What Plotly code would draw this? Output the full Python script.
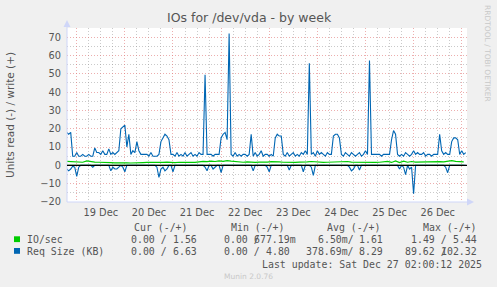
import plotly.graph_objects as go
import pandas as pd

# ---------------- data ----------------
# hourly samples starting 2025-12-18 19:00 (Req Size, KB)
req_write = [
    18, 17, 18, 5, 5, 7, 5, 5, 6, 5, 5, 6, 5, 5, 9.5, 7, 7, 6, 8, 6,
    6, 9, 6, 7, 6, 7, 8, 20, 21, 22, 10, 17, 6, 8, 7, 13, 8, 6, 6, 6,
    6, 5, 7, 5, 5, 5, 6, 13, 15, 17, 16, 14, 6, 6, 5, 7, 5, 6, 5, 7,
    5, 6, 7, 5, 6, 5, 7, 6, 6, 49.5, 6, 6, 6, 5, 6, 6, 6, 15, 17, 18,
    14, 72, 6, 5, 7, 5, 6, 5, 6, 6, 5, 6, 17, 5, 7, 5, 6, 8, 5, 6,
    6, 5, 6, 5, 15, 17, 16, 16, 6, 5, 7, 5, 6, 7, 5, 6, 5, 7, 6, 8,
    6, 55.8, 6, 7, 5, 8, 6, 7, 6, 5, 7, 6, 6, 16, 17, 17, 15, 6, 5, 7,
    6, 5, 7, 6, 5, 6, 7, 5, 6, 8, 6, 57.3, 6, 6, 6, 6, 6, 5, 6, 6,
    6, 6, 14, 19, 17, 6, 5, 6, 5, 7, 6, 5, 6, 8, 6, 7, 6, 6, 7, 5,
    6, 6, 5, 6, 6, 6, 17, 8, 6, 7, 6, 6, 13, 15, 15, 14, 6, 8, 6, 7,
]
req_read = [
    2, 3, 2, 0.5, 1, 6, 1, 0, 0, 0, 0, 0, 0, 1, 0, 0, 0, 0, 0, 0,
    0, 0, 3, 1, 2, 2, 1, 0, 1, 3.5, 0, 0, 0, 0, 0, 0, 0, 0, 0, 0,
    0, 0, 0, 0, 0, 1, 6.5, 2, 1, 3, 2, 0, 0, 3.5, 0, 0, 0, 0, 0, 0,
    0, 0, 0, 0, 0, 0, 0, 0, 0, 1, 3, 0, 0, 2, 1, 0, 0, 4, 0, 0,
    0, 0, 0, 0, 0, 0, 0, 0, 0, 0, 0, 0, 0, 3, 0, 0, 0, 0, 0, 0,
    1, 3.5, 0, 0, 0, 0, 0, 0, 0, 0, 0, 2.5, 0, 0, 0, 0, 0, 0, 3.5, 0,
    0, 0, 1, 5.5, 0, 0, 0, 0, 0, 0, 0, 0, 0, 0, 0, 0, 0, 0, 0, 0,
    0, 1, 3, 2, 0, 0, 2.5, 0, 0, 0, 0, 0, 0, 0, 0, 0, 0, 0, 0, 0,
    0, 0, 0, 0, 0, 0, 2, 0, 1, 5, 0, 2, 1, 15.5, 0, 0, 0, 0, 0, 0,
    0, 0, 0, 0, 0, 0, 0, 0, 0, 1, 4, 0, 0, 0, 0, 0, 0, 0, 0, 0,
]
# two-hourly samples starting 2025-12-18 19:00 (IO/sec)
io_write = [
    2.2, 2.1, 1.8, 1.9, 1.7, 2.4, 1.9, 1.8, 1.7, 1.5,
    1.6, 1.5, 1.4, 1.5, 1.3, 1.4, 1.3, 1.5, 1.4, 1.5,
    1.6, 1.5, 1.6, 1.7, 1.6, 1.8, 1.6, 1.5, 1.7, 1.6,
    1.8, 1.7, 1.6, 1.9, 2.2, 2.0, 2.3, 2.1, 2.4, 2.2,
    2.6, 2.3, 2.0, 1.8, 1.7, 1.9, 1.7, 1.6, 1.8, 1.7,
    1.8, 2.0, 2.1, 1.9, 1.7, 1.6, 1.7, 1.6, 1.8, 1.7,
    1.9, 2.1, 1.8, 1.7, 1.6, 1.7, 1.8, 1.7, 1.6, 1.8,
    2.1, 1.8, 1.7, 1.6, 1.7, 1.8, 1.7, 1.6, 1.7, 1.8,
    2.2, 1.6, 2.4, 1.5, 2.3, 1.7, 2.1, 1.8, 1.9, 2.0,
    2.1, 2.0, 2.1, 2.0, 1.9, 2.1, 2.6, 2.2, 2.0, 1.9,
]
io_read = [
    0, 0, 0, 0.02, 0, 0, 0, 0, 0, 0, 0, 0, 0, 0, 0.03, 0, 0, 0, 0, 0,
    0, 0, 0, 0, 0, 0, 0.02, 0, 0, 0, 0, 0, 0, 0, 0, 0, 0, 0, 0, 0,
    0, 0, 0, 0, 0, 0, 0, 0, 0, 0, 0.02, 0, 0, 0, 0, 0, 0, 0, 0, 0,
    0, 0, 0, 0, 0, 0, 0, 0, 0, 0, 0, 0, 0.03, 0, 0, 0, 0, 0, 0, 0,
    0, 0, 0, 0, 0.02, 0, 0, 0, 0, 0, 0, 0, 0, 0, 0, 0, 0, 0, 0, 0,
]

legend_rows = ["IO/sec", "Req Size (KB)"]
legend_colors = ["#00CC00", "#0066B3"]
col_headers = ["Cur (-/+)", "Min (-/+)", "Avg (-/+)", "Max (-/+)"]
# (read, write) for each column
io_stats = [("0.00", "1.56"), ("0.00", "677.19m"), ("6.50m", "1.61"), ("1.49", "5.44")]
req_stats = [("0.00", "6.63"), ("0.00", "4.80"), ("378.69m", "8.29"), ("89.62", "102.32")]
last_update = "Last update: Sat Dec 27 02:00:12 2025"

t_hour = pd.date_range("2025-12-18 19:00", periods=len(req_write), freq="h")
t_2h = pd.date_range("2025-12-18 19:00", periods=len(io_write), freq="2h")

GREEN, BLUE = legend_colors
fig = go.Figure()
fig.add_trace(go.Scatter(x=t_2h, y=[-v for v in io_read], mode="lines",
                         line=dict(color=GREEN, width=1.2), showlegend=False))
fig.add_trace(go.Scatter(x=t_2h, y=io_write, mode="lines",
                         line=dict(color=GREEN, width=1.2), showlegend=False))
fig.add_trace(go.Scatter(x=t_hour, y=[-v for v in req_read], mode="lines",
                         line=dict(color=BLUE, width=1.1), showlegend=False))
fig.add_trace(go.Scatter(x=t_hour, y=req_write, mode="lines",
                         line=dict(color=BLUE, width=1.1), showlegend=False))

# ---------------- layout helpers ----------------
L, T, PW, PH = 67, 28, 400, 174


def px(x):
    return (x - L) / PW


def py(y):
    return (T + PH - y) / PH


FONT = "DejaVu Sans"
MONO = "DejaVu Sans Mono"
TXT = "#555555"
CW = 5.96
MS = 9.9

ann = []


def add_text(x, y, text, anchor="left", size=MS, family=MONO, color=TXT, angle=0):
    ann.append(dict(x=px(x), y=py(y), xref="paper", yref="paper", text=text,
                    showarrow=False, xanchor=anchor, yanchor="middle",
                    font=dict(family=family, size=size, color=color),
                    borderpad=0, borderwidth=0, textangle=angle))


# title / axis title / watermarks
add_text(249, 18, "IOs for /dev/vda - by week", "center", 12.5, FONT, "#555555")
add_text(10, 115, "Units read (-) / write (+)", "center", 10.5, FONT, TXT, -90)
add_text(488, 53, "RRDTOOL / TOBI OETIKER", "center", 7.5, FONT, "#C8C8C8", 90)
add_text(248, 276, "Munin 2.0.76", "center", 7.5, FONT, "#C8C8C8")

# legend
header_x = [134, 230.7, 327, 422.7]
slash_x = [160.9, 253.8, 347.6, 440.8]
for hx, h in zip(header_x, col_headers):
    add_text(hx, 227.7, h)
row_y = [239.3, 251]
shapes = []
for ry, name, colr, stats in zip(row_y, legend_rows, legend_colors, [io_stats, req_stats]):
    shapes.append(dict(type="rect", xref="paper", yref="paper",
                       x0=px(14), x1=px(20), y0=py(ry + 2.8), y1=py(ry - 3),
                       fillcolor=colr, line=dict(width=0)))
    add_text(26.7, ry, name)
    for sx, (rd, wr) in zip(slash_x, stats):
        add_text(sx + CW, ry, rd + ("/" if rd.endswith("m") else " /"), "right")
        end = sx + (7 if wr.endswith("m") else 6) * CW
        add_text(end, ry, wr, "right")
add_text(482.3, 264, last_update, "right")

AX = "#CFD6F8"
shapes += [
    dict(type="line", xref="paper", yref="paper", x0=0, x1=0, y0=0, y1=py(22),
         line=dict(color=AX, width=1)),
    dict(type="line", xref="paper", yref="paper", x0=0, x1=px(470), y0=0, y1=0,
         line=dict(color=AX, width=1)),
    dict(type="path", xref="paper", yref="paper",
         path=f"M {px(63.5)} {py(27)} L {px(70.5)} {py(27)} L {px(67)} {py(20)} Z",
         fillcolor=AX, line=dict(width=0)),
    dict(type="path", xref="paper", yref="paper",
         path=f"M {px(467)} {py(198.5)} L {px(467)} {py(205.5)} L {px(474)} {py(202)} Z",
         fillcolor=AX, line=dict(width=0)),
    # zero rule
    dict(type="line", xref="paper", yref="y", x0=0, x1=1, y0=0, y1=0,
         line=dict(color="black", width=1.2), layer="above"),
]

MINOR_GRID = "rgba(150,150,150,0.5)"
MAJOR_GRID = "rgba(225,120,120,0.6)"
DOTS = "1px,2px"

fig.update_layout(
    width=497, height=287,
    margin=dict(l=L, r=497 - L - PW, t=T, b=287 - T - PH),
    paper_bgcolor="#F0F0F0", plot_bgcolor="#FFFFFF",
    showlegend=False, hovermode=False,
    annotations=ann, shapes=shapes,
    xaxis=dict(
        type="date", range=["2025-12-18 19:09", "2025-12-27 02:38"],
        tick0="2025-12-19", dtick=86400000, tickformat="%d %b",
        ticklabelmode="period", ticks="", ticklabelstandoff=3,
        showgrid=True, gridcolor=MAJOR_GRID, griddash=DOTS, gridwidth=1,
        minor=dict(dtick=6 * 3600000, tick0="2025-12-19", showgrid=True,
                   gridcolor=MINOR_GRID, griddash=DOTS, gridwidth=1),
        showline=False, zeroline=False,
        tickfont=dict(family=FONT, size=9.8, color=TXT),
    ),
    yaxis=dict(
        range=[-20, 75], tick0=0, dtick=10, ticks="", ticklabelstandoff=5,
        showgrid=True, gridcolor=MAJOR_GRID, griddash=DOTS, gridwidth=1,
        minor=dict(dtick=5, tick0=0, showgrid=True,
                   gridcolor=MINOR_GRID, griddash=DOTS, gridwidth=1),
        showline=False, zeroline=False,
        tickfont=dict(family=FONT, size=9.8, color=TXT),
    ),
)

fig.write_html("out.html")
